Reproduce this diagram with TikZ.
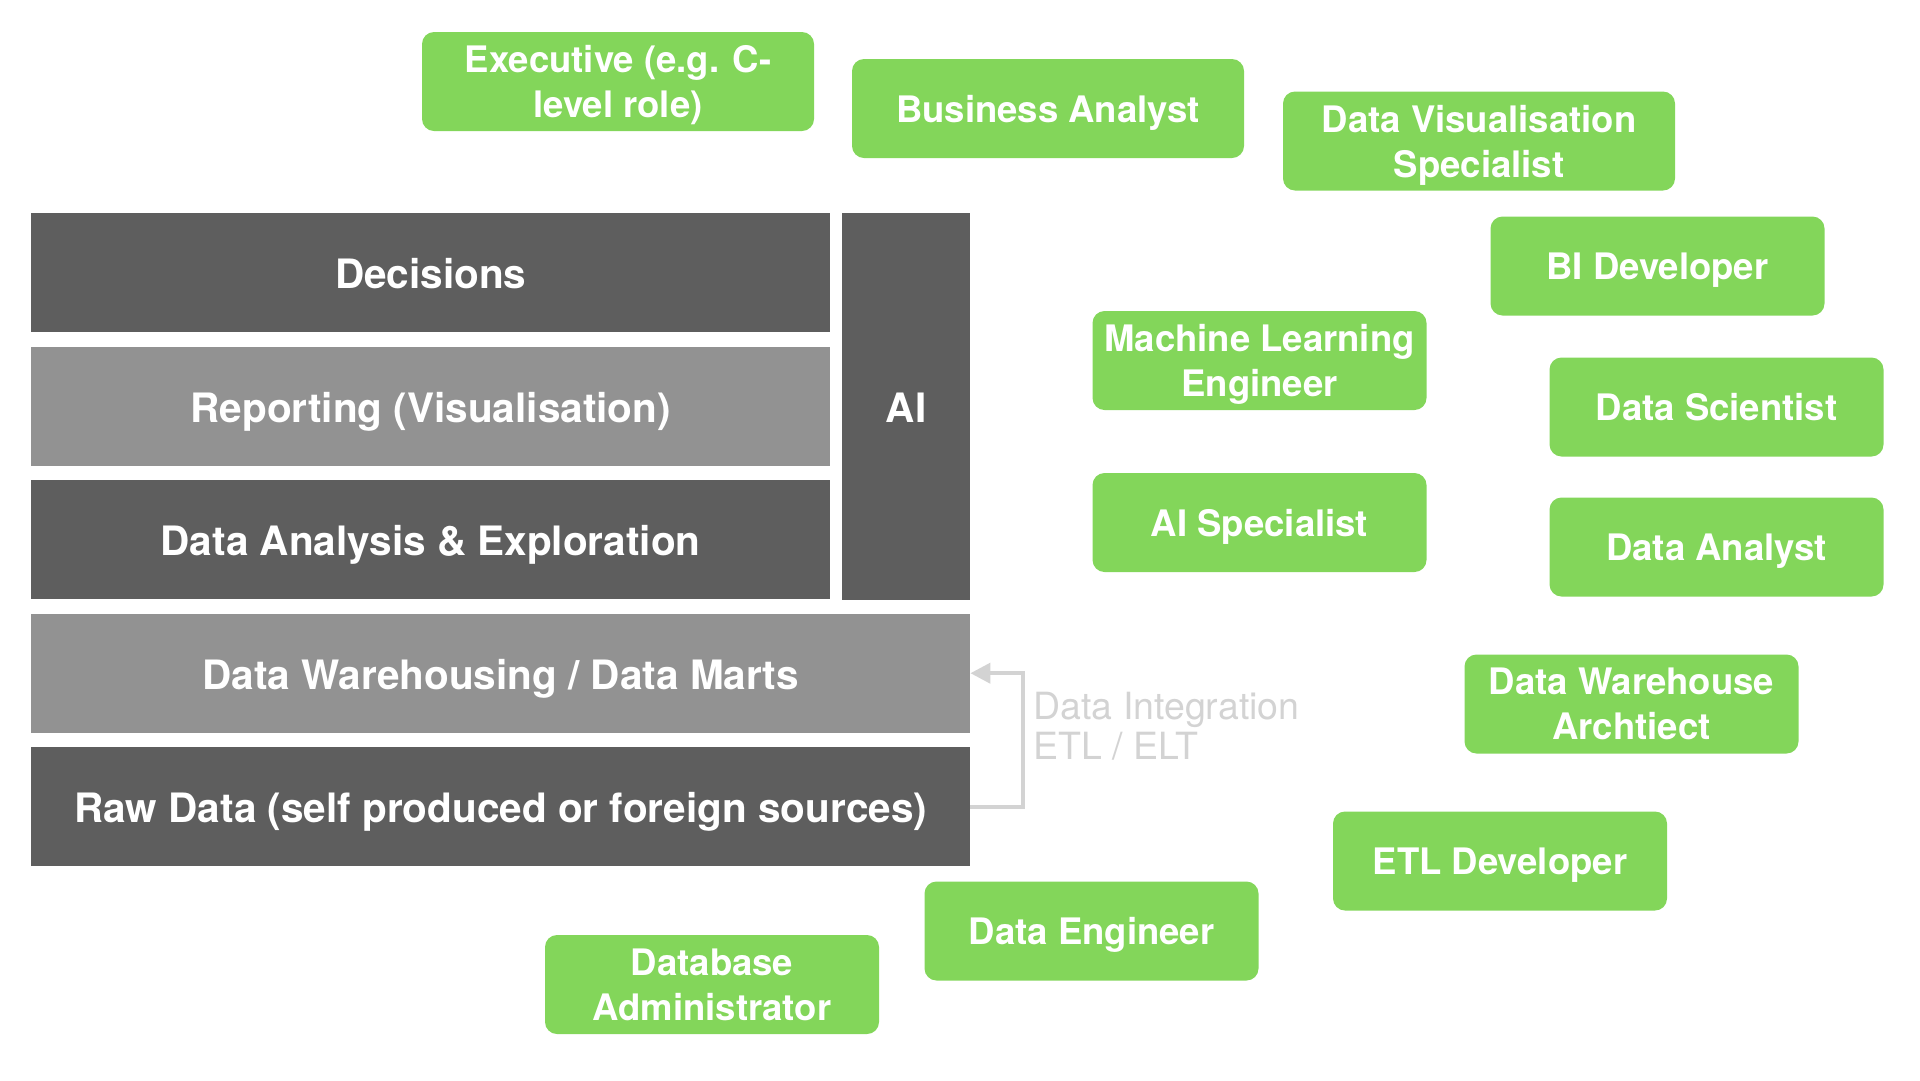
\documentclass[tikz,border=0pt]{standalone}
\usepackage{fontspec}
\setmainfont{TeX Gyre Heros}
\usetikzlibrary{arrows.meta}
\definecolor{darklayer}{HTML}{5E5E5E}
\definecolor{lightlayer}{HTML}{929292}
\definecolor{rolegreen}{HTML}{83D65A}
\definecolor{integgray}{HTML}{D3D3D3}

\begin{document}
\begin{tikzpicture}[x=1pt, y=-1pt,
    layer/.style={anchor=north west, minimum height=119pt, inner sep=0pt, text height=32pt, text depth=0pt, text=white, font=\fontsize{40.5}{48}\selectfont\bfseries},
    role/.style={fill=rolegreen, rounded corners=12pt, minimum width=334pt, minimum height=99pt, inner sep=0pt, text depth=0pt, text=white, align=center, font=\fontsize{36.5}{45}\selectfont\bfseries},
    widerole/.style={role, minimum width=392pt},
    integ/.style={draw=integgray, line width=4pt, -{Triangle[length=20pt, width=20pt]}}]
    \useasboundingbox (0,0) rectangle (1920,1080);

    \node (decisions) [layer, fill=darklayer, minimum width=799pt] at (31,213) {Decisions};
    \node (reporting) [layer, fill=lightlayer, minimum width=799pt] at (31,346.5) {Reporting (Visualisation)};
    \node (analysis) [layer, fill=darklayer, minimum width=799pt] at (31,480) {Data Analysis \& Exploration};
    \node (ai) [layer, fill=darklayer, minimum width=128pt, minimum height=387pt] at (842,213) {AI};
    \node (dwh) [layer, fill=lightlayer, minimum width=939pt] at (31,613.5) {Data Warehousing / Data Marts};
    \node (raw) [layer, fill=darklayer, minimum width=939pt] at (31,747) {Raw Data (self produced or foreign sources)};

    \node (executive) [widerole] at (618,81.5) {Executive (e.g. C-\\level role)};
    \node (business) [widerole] at (1048,108.5) {Business Analyst};
    \node (visual) [widerole] at (1479,141) {Data Visualisation\\Specialist};
    \node (bidev) [role] at (1657.5,266) {BI Developer};
    \node (mleng) [role] at (1259.5,360.5) {Machine Learning\\Engineer};
    \node (scientist) [role] at (1716.5,407) {Data Scientist};
    \node (aispec) [role] at (1259.5,522.5) {AI Specialist};
    \node (analyst) [role] at (1716.5,547) {Data Analyst};
    \node (architect) [role] at (1631.5,704) {Data Warehouse\\Archtiect};
    \node (etldev) [role] at (1500,861) {ETL Developer};
    \node (engineer) [role] at (1091.5,931) {Data Engineer};
    \node (dba) [role] at (712,984.5) {Database\\Administrator};

    \draw[integ] (raw.east) -- ++(53,0) |- node[pos=0.3, anchor=west, inner sep=0pt, xshift=8pt, align=left, text=integgray, font=\fontsize{37.5}{40}\selectfont] {Data Integration\\ETL / ELT} (dwh.east);
\end{tikzpicture}
\end{document}
